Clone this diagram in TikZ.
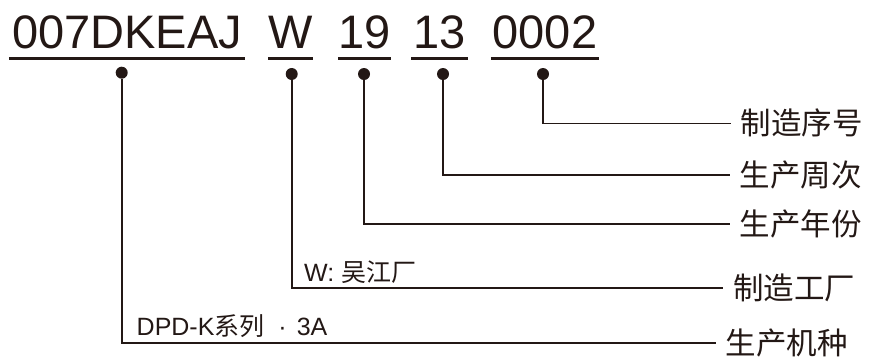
\documentclass[tikz,border=0pt]{standalone}
\usepackage{fontspec}
\setmainfont{Liberation Sans}
\newfontfamily\cjk{Noto Sans CJK SC}
\definecolor{ink}{HTML}{231815}

\begin{document}
\begin{tikzpicture}[x=1pt,y=-1pt,
    code/.style={anchor=base,inner sep=0pt,text=ink,font=\fontsize{47}{47}\selectfont},
    bar/.style={draw=ink,line width=3.2pt},
    dot/.style={circle,fill=ink,inner sep=0pt,minimum size=12pt},
    lead/.style={draw=ink,line width=1.6pt},
    tag/.style={anchor=west,inner xsep=10pt,inner ysep=0pt,text=ink,font=\cjk\fontsize{30.5}{30.5}\selectfont},
    note/.style={anchor=base west,inner sep=0pt,text=ink,font=\fontsize{25}{25}\selectfont}]
      \useasboundingbox (0,0) rectangle (869,360);

      \node[code,minimum width=236pt] (Mo) at (127,48.3)   {007DKEAJ};
      \node[code,minimum width=39.7pt] (Fa) at (290.8,48.3) {W};
      \node[code,minimum width=49pt]   (Yr) at (364.5,48.3) {19};
      \node[code,minimum width=56.3pt] (Wk) at (439.8,48.3) {13};
      \node[code,minimum width=108pt]  (No) at (545,48.3)   {0002};
      \foreach \n in {Mo,Fa,Yr,Wk,No}
        \draw[bar] ([yshift=-10pt]\n.base west) -- ([yshift=-10pt]\n.base east);

      \node[dot] (mo) at (121.7,72.7) {};
      \node[dot] (fa) at (291.7,74)   {};
      \node[dot] (yr) at (364,74)     {};
      \node[dot] (wk) at (443,74)     {};
      \node[dot] (no) at (543,74)     {};

      \node[tag] (tNo) at (730.7,123.3) {制造序号};
      \node[tag] (tWk) at (729.7,175)   {生产周次};
      \node[tag] (tYr) at (729.7,224)   {生产年份};
      \node[tag] (tFa) at (723,288)     {制造工厂};
      \node[tag] (tMo) at (715.7,343)   {生产机种};

      \draw[lead] (no) |- (tNo.west);
      \draw[lead] (wk) |- (tWk.west);
      \draw[lead] (yr) |- (tYr.west);
      \draw[lead] (fa) |- (tFa.west);
      \draw[lead] (mo) |- (tMo.west);

      \node[note] (nFa) at (304,281)   {W: {\cjk 吴江厂}};
      \node[note] (nMo) at (136.5,335) {DPD-K{\cjk 系列}\hspace{14pt}·\hspace{10pt}3A};
    \end{tikzpicture}
\end{document}
